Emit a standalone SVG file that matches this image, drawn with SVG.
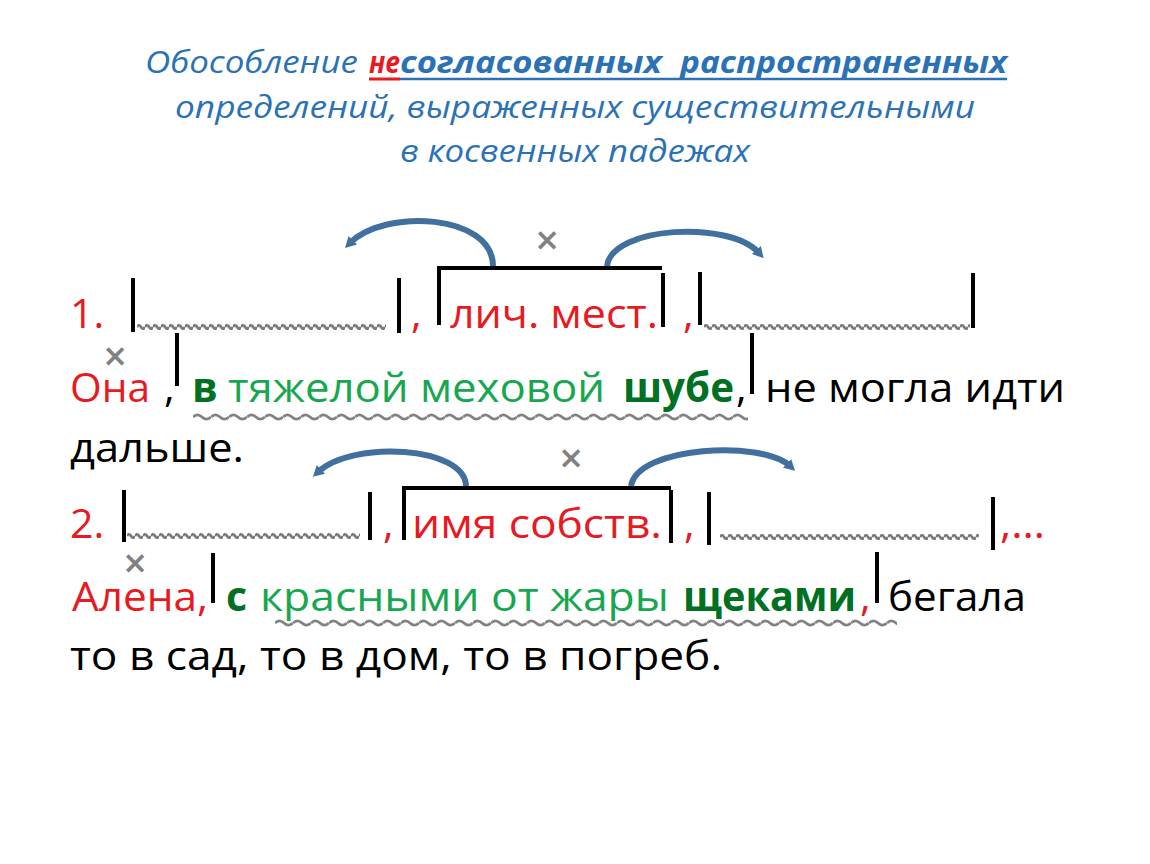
<svg xmlns="http://www.w3.org/2000/svg" width="1150" height="864" viewBox="0 0 1150 864">
<style>
.t{font-family:"Open Sans","Noto Sans","Liberation Sans",sans-serif;font-size:41px}
.ttl{font-family:"Open Sans","Noto Sans","Liberation Sans",sans-serif;font-size:31px;font-style:italic;fill:#2a72b5}
.r{fill:#e8191f}
.k{fill:#000}
.g{fill:#17a750}
.dg{fill:#007022;font-weight:bold}
.x{font-family:"Open Sans","Liberation Sans",sans-serif;font-size:38px;fill:#808080;stroke:#808080;stroke-width:1;text-anchor:middle}
.bar{stroke:#000;stroke-width:4;fill:none}
.arc{stroke:#41709f;stroke-width:6;fill:none;stroke-linecap:butt;marker-end:url(#ah)}
</style>
<defs>
<pattern id="ws" patternUnits="userSpaceOnUse" width="8" height="8">
<path d="M0,4 Q2,0.5 4,4 T8,4" stroke="#787878" stroke-width="2.6" fill="none"/>
</pattern>
<pattern id="wt" patternUnits="userSpaceOnUse" width="18" height="10">
<path d="M0,5 Q4.5,0.8 9,5 T18,5" stroke="#828282" stroke-width="2.8" fill="none"/>
</pattern>
<marker id="ah" markerUnits="userSpaceOnUse" markerWidth="16" markerHeight="16" refX="4" refY="8" orient="auto">
<path d="M0,2 L11,8 L0,14 Z" fill="#41709f"/>
</marker>
</defs>
<rect width="1150" height="864" fill="#fff"/>

<g id="title">
<text class="ttl" x="145" y="73" textLength="213" lengthAdjust="spacingAndGlyphs">Обособление</text>
<text class="ttl" x="369" y="73" style="font-weight:bold;fill:#e8191f" textLength="31" lengthAdjust="spacingAndGlyphs">не</text>
<text class="ttl" x="400" y="73" style="font-weight:bold" textLength="262" lengthAdjust="spacingAndGlyphs">согласованных</text>
<text class="ttl" x="680" y="73" style="font-weight:bold" textLength="327" lengthAdjust="spacingAndGlyphs">распространенных</text>
<line x1="369" y1="79" x2="400" y2="79" stroke="#e8191f" stroke-width="3"/>
<line x1="400" y1="79" x2="1007" y2="79" stroke="#2a72b5" stroke-width="2.5"/>
<text class="ttl" x="175" y="118" textLength="800" lengthAdjust="spacingAndGlyphs">определений,  выраженных существительными</text>
<text class="ttl" x="400" y="162" textLength="350" lengthAdjust="spacingAndGlyphs">в косвенных падежах</text>
</g>

<g id="scheme1">
<text class="t r" x="70" y="328">1.</text>
<line class="bar" x1="133" y1="278" x2="133" y2="332"/>
<rect transform="translate(137,323)" width="249" height="8" fill="url(#ws)"/>
<line class="bar" x1="399" y1="278" x2="399" y2="333"/>
<text class="t r" x="411" y="328">,</text>
<path class="bar" d="M439,325 V268 H662"/>
<line class="bar" x1="663" y1="273" x2="663" y2="327"/>
<text class="t r" x="450" y="328" textLength="208" lengthAdjust="spacingAndGlyphs">лич. мест.</text>
<text class="t r" x="683" y="328">,</text>
<line class="bar" x1="700" y1="272" x2="700" y2="325"/>
<rect transform="translate(704,323)" width="266" height="8" fill="url(#ws)"/>
<line class="bar" x1="973" y1="273" x2="973" y2="328"/>
<text class="x" x="547" y="254">×</text>
</g>

<g id="sentence1">
<text class="x" x="115" y="370">×</text>
<text class="t r" x="70" y="402" textLength="80" lengthAdjust="spacingAndGlyphs">Она</text>
<text class="t k" x="164" y="402">,</text>
<line class="bar" x1="177" y1="333" x2="177" y2="386"/>
<text class="t dg" x="192" y="402">в</text>
<text class="t g" x="228" y="402" textLength="377" lengthAdjust="spacingAndGlyphs">тяжелой меховой</text>
<text class="t dg" x="623" y="402" textLength="111" lengthAdjust="spacingAndGlyphs">шубе</text>
<text class="t k" x="736" y="402">,</text>
<line class="bar" x1="752" y1="333" x2="752" y2="394"/>
<rect transform="translate(193,412)" width="555" height="10" fill="url(#wt)"/>
<text class="t k" x="765" y="402" textLength="300" lengthAdjust="spacingAndGlyphs">не могла идти</text>
<text class="t k" x="70" y="462" textLength="174" lengthAdjust="spacingAndGlyphs">дальше.</text>
</g>

<g id="scheme2">
<text class="t r" x="70" y="538">2.</text>
<line class="bar" x1="124" y1="490" x2="124" y2="542"/>
<rect transform="translate(127,532)" width="233" height="8" fill="url(#ws)"/>
<line class="bar" x1="370" y1="492" x2="370" y2="540"/>
<text class="t r" x="383" y="538">,</text>
<path class="bar" d="M404,540 V488 H671"/>
<line class="bar" x1="671" y1="490" x2="671" y2="543"/>
<text class="t r" x="412" y="538" textLength="250" lengthAdjust="spacingAndGlyphs">имя собств.</text>
<text class="t r" x="684" y="538">,</text>
<line class="bar" x1="709" y1="492" x2="709" y2="545"/>
<rect transform="translate(720,533)" width="259" height="8" fill="url(#ws)"/>
<line class="bar" x1="993" y1="497" x2="993" y2="550"/>
<text class="t r" x="1000" y="538" textLength="45" lengthAdjust="spacingAndGlyphs">,…</text>
<text class="x" x="571" y="472">×</text>
</g>

<g id="sentence2">
<text class="x" x="135" y="577">×</text>
<text class="t r" x="72" y="611" textLength="136" lengthAdjust="spacingAndGlyphs">Алена,</text>
<line class="bar" x1="213" y1="553" x2="213" y2="603"/>
<text class="t dg" x="226" y="611">с</text>
<text class="t g" x="260" y="611" textLength="409" lengthAdjust="spacingAndGlyphs">красными от жары</text>
<text class="t dg" x="683" y="611" textLength="173" lengthAdjust="spacingAndGlyphs">щеками</text>
<text class="t r" x="860" y="611">,</text>
<line class="bar" x1="877" y1="552" x2="877" y2="603"/>
<rect transform="translate(275,618)" width="622" height="10" fill="url(#wt)"/>
<text class="t k" x="888" y="611" textLength="138" lengthAdjust="spacingAndGlyphs">бегала</text>
<text class="t k" x="70" y="670" textLength="652" lengthAdjust="spacingAndGlyphs">то в сад, то в дом, то в погреб.</text>
</g>

<g id="connectors">
<path class="arc" d="M493,266 C493,214 385,208 350,243"/>
<path class="arc" d="M607,266 C612,226 730,220 759,253"/>
<path class="arc" d="M466,486 C465,446 352,440 318,472"/>
<path class="arc" d="M631,486 C638,446 762,440 790,466"/>
</g>
</svg>
